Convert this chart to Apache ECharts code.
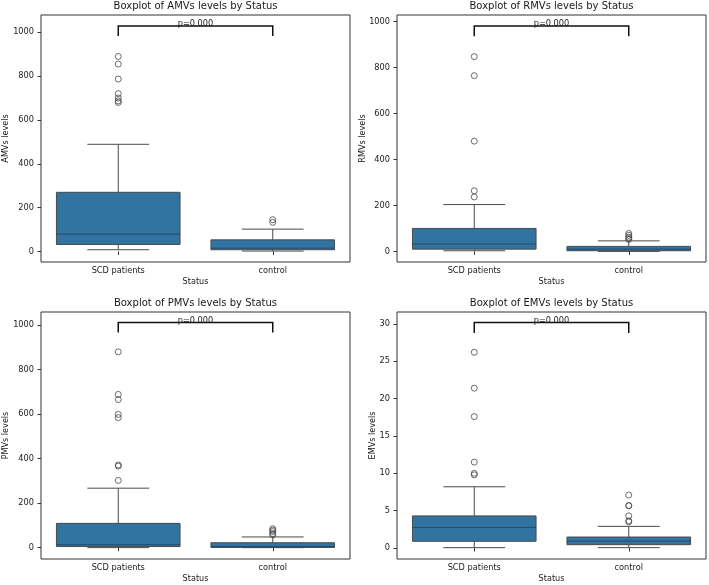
<!DOCTYPE html>
<html>
<head>
<meta charset="utf-8">
<script src="https://cdn.jsdelivr.net/npm/echarts@6/dist/echarts.min.js"></script>
<style>
  html, body { margin: 0; padding: 0; background: #fff; }
  #chart { width: 709px; height: 585px; }
</style>
</head>
<body>
<div id="chart"></div>
<script>
// categories and tick labels
const categories = ["SCD patients", "control"];
const mvTicks = [0, 200, 400, 600, 800, 1000];
const emvTicks = [0, 5, 10, 15, 20, 25, 30];

// box values per group: [low whisker, Q1, median, Q3, high whisker]
const amvsBox = [[8, 32, 79, 270, 489], [2, 8, 15, 53, 102]];
const amvsOutliers = [[890, 855, 787, 720, 700, 687, 680], [145, 133]];

const rmvsBox = [[3, 10, 32, 100, 204], [0, 3, 10, 22, 46]];
const rmvsOutliers = [[848, 765, 480, 264, 237], [78, 70, 62, 56, 52]];

const pmvsBox = [[0, 5, 13, 109, 267], [0, 1, 5, 22, 48]];
const pmvsOutliers = [[879, 688, 665, 598, 584, 371, 366, 302], [85, 78, 72, 63, 57]];

const emvsBox = [[0.05, 0.9, 2.75, 4.3, 8.2], [0.05, 0.45, 0.93, 1.47, 2.9]];
const emvsOutliers = [[26.2, 21.4, 17.6, 11.5, 10.0, 9.8], [7.1, 5.7, 5.65, 4.3, 3.65, 3.5]];

// significance bracket: [bottom of legs, top]
const amvsBracket = [983, 1029];
const rmvsBracket = [937, 981];
const pmvsBracket = [966, 1011];
const emvsBracket = [28.8, 30.2];

const FONT = "DejaVu Sans";
const BOX_COLOR = "#3274a1";
const LINE_COLOR = "#4a4a4a";
const TEXT_COLOR = "#1a1a1a";

const panels = [
  { name: "AMVs", box: amvsBox, out: amvsOutliers, bracket: amvsBracket, ticks: mvTicks,
    min: -48, max: 1079, grid: { left: 41, top: 15 }, nameGap: 31 },
  { name: "RMVs", box: rmvsBox, out: rmvsOutliers, bracket: rmvsBracket, ticks: mvTicks,
    min: -46, max: 1029, grid: { left: 397, top: 15 }, nameGap: 30.5 },
  { name: "PMVs", box: pmvsBox, out: pmvsOutliers, bracket: pmvsBracket, ticks: mvTicks,
    min: -51, max: 1058, grid: { left: 41, top: 312 }, nameGap: 31 },
  { name: "EMVs", box: emvsBox, out: emvsOutliers, bracket: emvsBracket, ticks: emvTicks,
    min: -1.47, max: 31.6, grid: { left: 397, top: 312 }, nameGap: 20.5 },
];
const GRID_W = 309;
const GRID_H = 247;

function renderBox(params, api) {
  const x = api.value(0);
  const pLo = api.coord([x, api.value(1)]);
  const pQ1 = api.coord([x, api.value(2)]);
  const pMed = api.coord([x, api.value(3)]);
  const pQ3 = api.coord([x, api.value(4)]);
  const pHi = api.coord([x, api.value(5)]);
  const band = api.size([1, 0])[0];
  const w = band * 0.8;
  const cap = w * 0.5;
  const cx = pLo[0];
  const ls = { stroke: LINE_COLOR, lineWidth: 1 };
  return {
    type: "group",
    children: [
      { type: "line", shape: { x1: cx, y1: pHi[1], x2: cx, y2: pQ3[1] }, style: ls },
      { type: "line", shape: { x1: cx, y1: pQ1[1], x2: cx, y2: pLo[1] }, style: ls },
      { type: "line", shape: { x1: cx - cap / 2, y1: pHi[1], x2: cx + cap / 2, y2: pHi[1] }, style: ls },
      { type: "line", shape: { x1: cx - cap / 2, y1: pLo[1], x2: cx + cap / 2, y2: pLo[1] }, style: ls },
      {
        type: "rect",
        shape: { x: cx - w / 2, y: pQ3[1], width: w, height: pQ1[1] - pQ3[1] },
        style: { fill: BOX_COLOR, stroke: LINE_COLOR, lineWidth: 1 },
      },
      { type: "line", shape: { x1: cx - w / 2, y1: pMed[1], x2: cx + w / 2, y2: pMed[1] }, style: { stroke: "#26496a", lineWidth: 1 } },
    ],
  };
}

function renderBracket(params, api) {
  const lo = api.value(0);
  const hi = api.value(1);
  const a = api.coord([0, lo]);
  const b = api.coord([0, hi]);
  const c = api.coord([1, hi]);
  const d = api.coord([1, lo]);
  return {
    type: "group",
    children: [
      {
        type: "polyline",
        shape: { points: [a, b, c, d] },
        style: { stroke: "#111", lineWidth: 1.5, fill: null },
      },
      {
        type: "text",
        style: {
          text: "p=0.000",
          x: (b[0] + c[0]) / 2,
          y: b[1] + 2,
          align: "center",
          verticalAlign: "bottom",
          fontSize: 8.2,
          fontFamily: FONT,
          fill: TEXT_COLOR,
        },
      },
    ],
  };
}

const option = {
  animation: false,
  textStyle: { fontFamily: FONT },
  title: [],
  grid: [],
  xAxis: [],
  yAxis: [],
  series: [],
};

panels.forEach((p, i) => {
  option.title.push({
    text: "Boxplot of " + p.name + " levels by Status",
    left: p.grid.left + GRID_W / 2,
    top: p.grid.top - 13.5,
    textAlign: "center",
    padding: 0,
    textStyle: { fontSize: 10, fontWeight: "normal", color: TEXT_COLOR, fontFamily: FONT },
  });
  option.grid.push({
    left: p.grid.left,
    top: p.grid.top,
    width: GRID_W,
    height: GRID_H,
    show: true,
    borderColor: "#333",
    borderWidth: 1,
    backgroundColor: "transparent",
  });
  option.xAxis.push({
    type: "category",
    gridIndex: i,
    data: categories,
    name: "Status",
    nameLocation: "middle",
    nameGap: 16,
    nameMoveOverlap: false,
    nameTextStyle: { fontSize: 8.1, color: TEXT_COLOR, fontFamily: FONT },
    axisLine: { show: false },
    axisTick: { show: true, alignWithLabel: true, length: 3.5, lineStyle: { color: "#333" } },
    axisLabel: { fontSize: 8.2, color: TEXT_COLOR, margin: 5, fontFamily: FONT },
    splitLine: { show: false },
  });
  option.yAxis.push({
    type: "value",
    gridIndex: i,
    min: p.min,
    max: p.max,
    name: p.name + " levels",
    nameLocation: "middle",
    nameRotate: 90,
    nameGap: p.nameGap,
    nameMoveOverlap: false,
    nameTextStyle: { fontSize: 8.1, color: TEXT_COLOR, fontFamily: FONT },
    axisLine: { show: false },
    axisTick: { show: true, length: 3.5, customValues: p.ticks, lineStyle: { color: "#333" } },
    axisLabel: {
      fontSize: 8.2, color: TEXT_COLOR, margin: 7, customValues: p.ticks, fontFamily: FONT,
      formatter: (v) => String(v),
    },
    splitLine: { show: false },
  });
  option.series.push({
    type: "custom",
    xAxisIndex: i,
    yAxisIndex: i,
    renderItem: renderBox,
    data: p.box.map((b, k) => [k].concat(b)),
    silent: true,
  });
  const outData = [];
  p.out.forEach((vals, k) => vals.forEach((v) => outData.push([k, v])));
  option.series.push({
    type: "scatter",
    xAxisIndex: i,
    yAxisIndex: i,
    symbol: "circle",
    symbolSize: 6,
    itemStyle: { color: "rgba(0,0,0,0)", borderColor: "#4a4a4a", borderWidth: 1 },
    data: outData,
    silent: true,
  });
  option.series.push({
    type: "custom",
    xAxisIndex: i,
    yAxisIndex: i,
    renderItem: renderBracket,
    encode: { x: -1, y: [0, 1] },
    data: [p.bracket],
    silent: true,
  });
});

const chart = echarts.init(document.getElementById("chart"));
chart.setOption(option);
</script>
</body>
</html>
